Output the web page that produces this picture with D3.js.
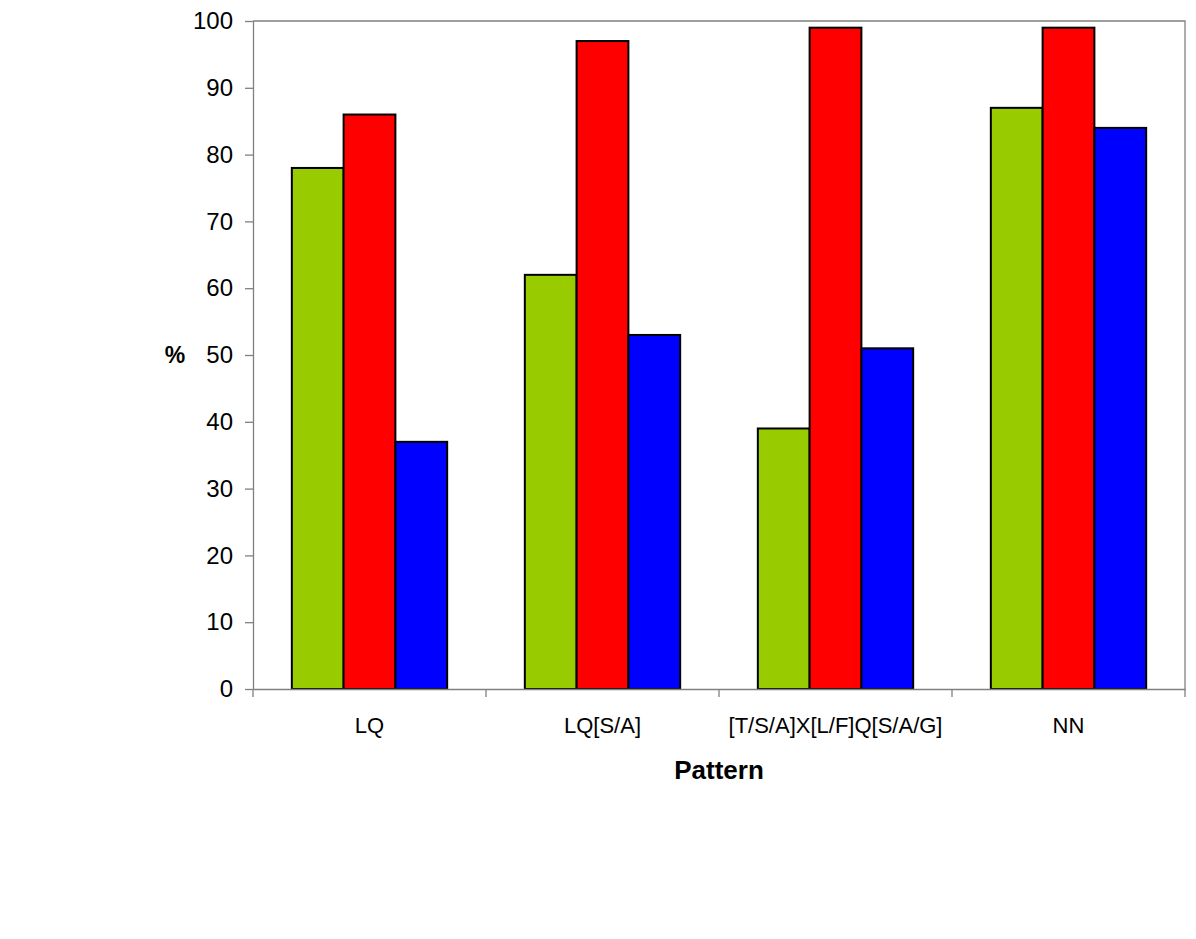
<!DOCTYPE html>
<html>
<head>
<meta charset="utf-8">
<script src="https://cdn.jsdelivr.net/npm/d3@7"></script>
<style>
  html, body { margin: 0; padding: 0; background: #fff; }
  svg { display: block; font-family: "Liberation Sans", Arial, sans-serif; }
</style>
</head>
<body>
<svg id="chart" width="1196" height="939"></svg>
<script>
const categories = ["LQ", "LQ[S/A]", "[T/S/A]X[L/F]Q[S/A/G]", "NN"];
const seriesNames = ["Series 1", "Series 2", "Series 3"];
const series1 = [78, 62, 39, 87];
const series2 = [86, 97, 99, 99];
const series3 = [37, 53, 51, 84];
const yTicks = [0, 10, 20, 30, 40, 50, 60, 70, 80, 90, 100];
const colors = ["#99CC00", "#FF0000", "#0000FF"];

const allSeries = [series1, series2, series3];

const svg = d3.select("#chart");
const plotLeft = 253, plotRight = 1185, plotTop = 21, plotBottom = 689;

const x = d3.scaleBand().domain(categories).range([plotLeft, plotRight]).paddingInner(0).paddingOuter(0);
const xs = d3.scaleBand().domain(seriesNames).range([0, x.bandwidth()]).paddingInner(0).paddingOuter(0.75);
const y = d3.scaleLinear().domain([0, 100]).range([plotBottom, plotTop]);

// plot frame (top and right)
svg.append("path")
  .attr("d", `M${plotLeft},${plotTop}H${plotRight}V${plotBottom}`)
  .attr("fill", "none")
  .attr("stroke", "#808080")
  .attr("stroke-width", 1.3);

// bars
const groups = svg.append("g").selectAll("g")
  .data(categories)
  .join("g")
  .attr("transform", d => `translate(${x(d)},0)`);

groups.selectAll("rect")
  .data((c, i) => seriesNames.map((s, j) => ({ s, j, v: allSeries[j][i] })))
  .join("rect")
  .attr("x", d => xs(d.s))
  .attr("width", xs.bandwidth())
  .attr("y", d => y(d.v))
  .attr("height", d => y(0) - y(d.v))
  .attr("fill", d => colors[d.j])
  .attr("stroke", "#000")
  .attr("stroke-width", 2);

// y axis
const yAxis = svg.append("g")
  .attr("transform", `translate(${plotLeft},0)`)
  .call(d3.axisLeft(y).tickValues(yTicks).tickSize(8).tickPadding(12).tickSizeOuter(0));
yAxis.select(".domain").attr("stroke", "#808080").attr("stroke-width", 1.3);
yAxis.selectAll(".tick line").attr("stroke", "#808080").attr("stroke-width", 1.3);
yAxis.selectAll(".tick text")
  .attr("font-size", 24)
  .attr("fill", "#000")
  .attr("font-family", "'Liberation Sans', Arial, sans-serif");

// x axis
const xAxis = svg.append("g")
  .attr("transform", `translate(0,${plotBottom})`)
  .call(d3.axisBottom(x).tickSize(0).tickPadding(28).tickSizeOuter(0));
xAxis.select(".domain").attr("stroke", "#808080").attr("stroke-width", 1.3);
xAxis.selectAll(".tick text")
  .attr("font-size", 22)
  .attr("fill", "#000")
  .attr("font-family", "'Liberation Sans', Arial, sans-serif");

// x category boundary ticks
const boundaries = categories.map(c => x(c)).concat([x(categories[categories.length - 1]) + x.bandwidth()]);
svg.append("g").selectAll("line")
  .data(boundaries)
  .join("line")
  .attr("x1", d => d).attr("x2", d => d)
  .attr("y1", plotBottom).attr("y2", plotBottom + 8)
  .attr("stroke", "#808080")
  .attr("stroke-width", 1.3);

// axis titles
svg.append("text")
  .attr("x", (plotLeft + plotRight) / 2)
  .attr("y", 779)
  .attr("text-anchor", "middle")
  .attr("font-size", 26)
  .attr("font-weight", "bold")
  .text("Pattern");

svg.append("text")
  .attr("x", 175)
  .attr("y", y(50) + 8)
  .attr("text-anchor", "middle")
  .attr("font-size", 23)
  .attr("font-weight", "bold")
  .text("%");
</script>
</body>
</html>
